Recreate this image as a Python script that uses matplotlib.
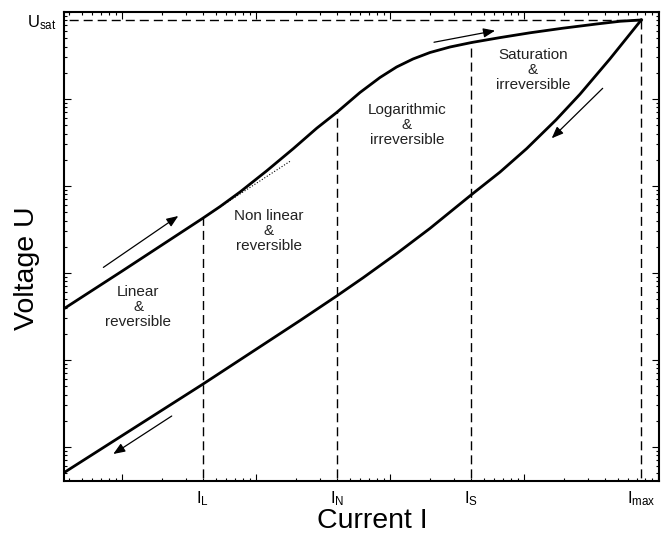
import numpy as np
import matplotlib.pyplot as plt
from matplotlib.ticker import LogLocator, NullLocator

plt.rcParams['font.family'] = 'Liberation Sans'
plt.rcParams['mathtext.fontset'] = 'custom'
plt.rcParams['mathtext.rm'] = 'Liberation Sans'
plt.rcParams['mathtext.it'] = 'Liberation Sans:italic'

# rising branch (current / voltage)
I_up = np.array([0.37, 1.0, 4.0, 5.39, 7.6, 12.0, 19.0, 28.4, 40.0, 59.7, 84.2,
                 112, 148.4, 198.9, 280.4, 407, 662, 1109, 1954, 3487, 5204, 7500])
U_up = np.array([39, 105, 425, 580, 853, 1491, 2691, 4617, 7000, 11875, 17670,
                 23330, 28830, 34230, 39600, 44620, 50780, 57680, 65140, 72810, 78200, 81000])
# falling branch
I_down = np.array([0.369, 4.0, 21.3, 40.0, 63.2, 112, 198.9, 407, 662, 1047, 1733, 2618, 4384, 7500])
U_down = np.array([0.507, 5.26, 28.4, 54.4, 88.5, 167, 326, 799, 1445, 2691, 5752, 11360, 28980, 81000])

# tangent of the linear part
tan_I = [4.0, 18.2]
tan_U = [425, 1950]

# characteristic currents
I_marks = [4.0, 40.0, 400.0, 7500.0]
I_top = [425, 7000, 44620, 81000]
I_names = [r'$\mathrm{I_L}$', r'$\mathrm{I_N}$', r'$\mathrm{I_S}$', r'$\mathrm{I_{max}}$']
U_sat = 81000

# region labels
reg_txt = ['Linear\n&\nreversible', 'Non linear\n&\nreversible',
           'Logarithmic\n&\nirreversible', 'Saturation\n&\nirreversible']
reg_I = [1.32, 12.4, 134, 1167]
reg_U = [40.7, 304, 5025, 21540]

# arrows: tail -> tip
arr_tail = [(0.726, 116), (213, 44900), (3865, 13270), (2.35, 2.27)]
arr_tip = [(2.63, 452), (608, 61000), (1610, 3535), (0.861, 0.831)]

fig = plt.figure(figsize=(6.68, 5.39), dpi=100)
ax = fig.add_axes([64/668, 58/539, 595/668, 469/539])
ax.set_xscale('log')
ax.set_yscale('log')
ax.set_xlim(10**((64-122)/134), 10**((659-122)/134))
ax.set_ylim(10**((447-481)/87), 1e5)

ax.plot(I_up, U_up, 'k-', lw=2)
ax.plot(I_down, U_down, 'k-', lw=2)
ax.plot(tan_I, tan_U, 'k:', lw=0.8)
ax.vlines(I_marks, 0.1, I_top, colors='k', linestyles=(0, (6.5, 3.6)), lw=1)
ax.hlines(U_sat, 0.1, I_marks[-1], colors='k', linestyles=(0, (6.5, 3.6)), lw=1)

for t, x, y in zip(reg_txt, reg_I, reg_U):
    ax.text(x, y, t, ha='center', va='center', fontsize=11, linespacing=1.1, color='#222222')

for a, b in zip(arr_tail, arr_tip):
    ax.annotate('', xy=b, xytext=a,
                arrowprops=dict(arrowstyle='-|>,head_length=0.5,head_width=0.2',
                                color='k', lw=0.9, mutation_scale=14, shrinkA=0, shrinkB=0))

ax.xaxis.set_major_locator(LogLocator(base=10, numticks=20))
ax.xaxis.set_minor_locator(LogLocator(base=10, subs=range(2, 10), numticks=20))
ax.yaxis.set_major_locator(LogLocator(base=10, numticks=20))
ax.yaxis.set_minor_locator(LogLocator(base=10, subs=range(2, 10), numticks=20))
ax.tick_params(which='both', direction='in', top=True, right=True,
               labelbottom=False, labelleft=False, width=0.8)
ax.tick_params(which='major', length=5)
ax.tick_params(which='minor', length=2.5)
for s in ax.spines.values():
    s.set_linewidth(1.5)

secx = ax.secondary_xaxis('bottom')
secx.set_xticks(I_marks, labels=I_names)
secx.xaxis.set_minor_locator(NullLocator())
secx.tick_params(length=0, pad=6, labelsize=12)
secx.spines['bottom'].set_visible(False)

secy = ax.secondary_yaxis('left')
secy.set_yticks([U_sat], labels=[r'$\mathrm{U_{sat}}$'])
secy.yaxis.set_minor_locator(NullLocator())
secy.tick_params(length=0, pad=5, labelsize=12)
secy.spines['left'].set_visible(False)

ax.set_xlabel('Current I', fontsize=20.5)
ax.xaxis.set_label_coords(0.518, -0.057)
ax.set_ylabel('Voltage U', fontsize=20.5)
ax.yaxis.set_label_coords(-0.041, 0.454)

fig.savefig('out.png', dpi=100)
